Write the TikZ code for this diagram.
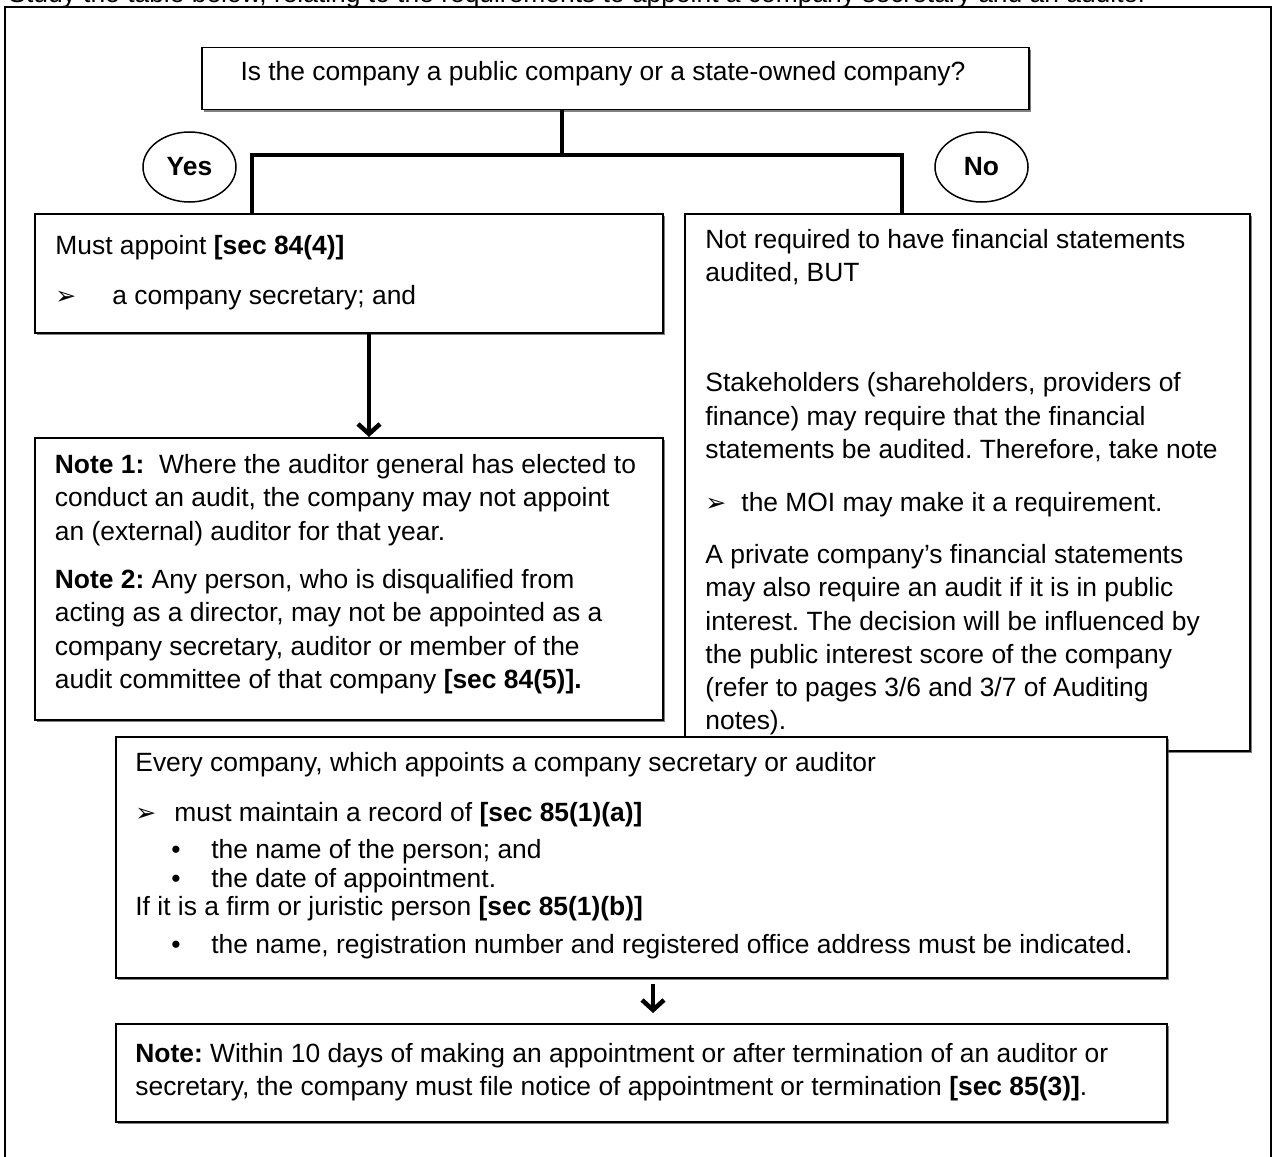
\documentclass[tikz,border=0pt]{standalone}
\usepackage{fontspec}
\setmainfont{Liberation Sans}
\newfontfamily\dv{DejaVu Sans}
\usetikzlibrary{arrows.meta,shadows,shapes.geometric}
\newcommand{\fsz}{\fontsize{13.2pt}{16.5pt}\selectfont\frenchspacing}
\newcommand{\arr}{{\dv\fontsize{12.5pt}{13pt}\selectfont ➢}}
\tikzset{
  box/.style={draw, line width=0.75pt, fill=white, anchor=north west, inner sep=0pt,
    drop shadow={shadow xshift=0.9pt, shadow yshift=-0.9pt, opacity=0.7, fill=black!70}},
  txt/.style={anchor=base west, inner sep=0pt, font=\fsz},
  conn/.style={line width=2pt},
  arrowline/.style={line width=2.25pt, -{Straight Barb[length=5pt,width=11pt]}},
  yn/.style={draw, ellipse, line width=0.75pt, fill=white, minimum width=46.5pt, minimum height=35pt, inner sep=0pt, font=\fsz\bfseries}
}
\begin{document}
\begin{tikzpicture}[x=0.5pt, y=-0.5pt]
\useasboundingbox (0,0) rectangle (1278,1156);
\clip (0,0) rectangle (1278,1156);
\fill[white] (0,0) rectangle (1278,1156);
% outer frame
\draw[line width=0.75pt] (5,1170) -- (5,7) -- (1271,7) -- (1271,1170);
\node[txt] (top) at (8,3) {Study the table below, relating to the requirements to appoint a company secretary and an auditor};

% question
\node[box, minimum width=413.5pt, minimum height=31pt] (Q) at (201,47) {};
\node[anchor=base, inner sep=0pt, font=\fsz] (qt) at (603,81) {Is the company a public company or a state-owned company?};

% boxes
\node[box, minimum width=314pt, minimum height=59.5pt] (L) at (34,213) {};
\node[box, minimum width=282.5pt, minimum height=268.5pt] (R) at (684,213) {};
\node[box, minimum width=314pt, minimum height=141pt] (N1) at (34,437) {};

% connectors
\coordinate (j) at (562,155);
\coordinate (jl) at (252,155);
\coordinate (jr) at (902,155);
\draw[conn] (Q.south -| j) -- (j);
\draw[conn] (L.north -| jl) |- (jr) -- (R.north -| jr);
\coordinate (a1) at (369,0);
\draw[arrowline] (L.south -| a1) -- (N1.north -| a1);

% yes / no
\node[yn] (yes) at (189.5,167) {Yes};
\node[yn] (no) at (981.5,167) {No};

% left box text
\node[txt] (l1) at (55,254) {Must appoint \textbf{[sec 84(4)]}};
\node[txt] (l2a) at (55,304) {\arr};
\node[txt] (l2) at (112,304) {a company secretary; and};

% note 1 text
\node[txt] (n1) at (54.5,473) {\textbf{Note 1:}\ \ Where the auditor general has elected to};
\node[txt] (n2) at (54.5,506.5) {conduct an audit, the company may not appoint};
\node[txt] (n3) at (54.5,540) {an (external) auditor for that year.};
\node[txt] (n4) at (54.5,588) {\textbf{Note 2:} Any person, who is disqualified from};
\node[txt] (n5) at (54.5,621.5) {acting as a director, may not be appointed as a};
\node[txt] (n6) at (54.5,655) {company secretary, auditor or member of the};
\node[txt] (n7) at (54.5,688) {audit committee of that company \textbf{[sec 84(5)].}};

% right box text
\node[txt] (r1) at (705,248) {Not required to have financial statements};
\node[txt] (r2) at (705,281.5) {audited, BUT};
\node[txt] (r3) at (705,391.5) {Stakeholders (shareholders, providers of};
\node[txt] (r4) at (705,425) {finance) may require that the financial};
\node[txt] (r5) at (705,458.5) {statements be audited. Therefore, take note};
\node[txt] (r6a) at (705,511.5) {\arr};
\node[txt] (r6) at (741,511.5) {the MOI may make it a requirement.};
\node[txt] (r7) at (705,563.5) {A private company’s financial statements};
\node[txt] (r8) at (705,596.8) {may also require an audit if it is in public};
\node[txt] (r9) at (705,630) {interest. The decision will be influenced by};
\node[txt] (r10) at (705,663) {the public interest score of the company};
\node[txt] (r11) at (705,696) {(refer to pages 3/6 and 3/7 of Auditing};
\node[txt] (r12) at (705,729) {notes).};

% every company box
\node[box, minimum width=525.5pt, minimum height=120.5pt] (E) at (115,736) {};
\node[txt] (e1) at (135,771) {Every company, which appoints a company secretary or auditor};
\node[txt] (e2a) at (135,821) {\arr};
\node[txt] (e2) at (174,821) {must maintain a record of \textbf{[sec 85(1)(a)]}};
\node[txt] (e3a) at (171,858) {•};
\node[txt] (e3) at (211,858) {the name of the person; and};
\node[txt] (e4a) at (171,887) {•};
\node[txt] (e4) at (211,887) {the date of appointment.};
\node[txt] (e5) at (135,915) {If it is a firm or juristic person \textbf{[sec 85(1)(b)]}};
\node[txt] (e6a) at (171,953) {•};
\node[txt] (e6) at (211,953) {the name, registration number and registered office address must be indicated.};

% final note
\node[box, minimum width=525.5pt, minimum height=49pt] (N2) at (115,1023) {};
\coordinate (a2) at (653,0);
\draw[arrowline, shorten <=2.5pt, shorten >=5pt] (E.south -| a2) -- (N2.north -| a2);
\node[txt] (f1) at (135,1062) {\textbf{Note:} Within 10 days of making an appointment or after termination of an auditor or};
\node[txt] (f2) at (135,1095) {secretary, the company must file notice of appointment or termination \textbf{[sec 85(3)]}.};
\end{tikzpicture}
\end{document}
